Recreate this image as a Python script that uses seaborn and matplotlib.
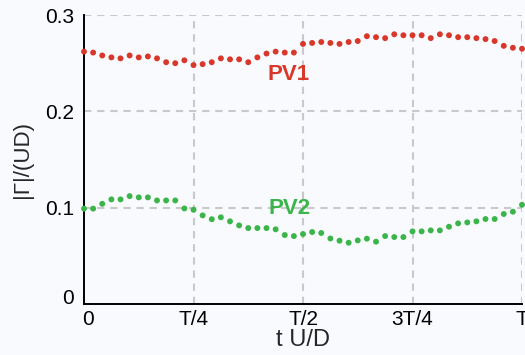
import numpy as np
import pandas as pd
import matplotlib
matplotlib.use("Agg")
import matplotlib.pyplot as plt
import matplotlib.transforms as mtransforms
import seaborn as sns

# Circulation of the two primary vortices over one shedding period
n_samples = 49
pv1 = [0.262, 0.261, 0.258, 0.256, 0.255, 0.258, 0.256, 0.257, 0.255, 0.251,
       0.250, 0.253, 0.248, 0.249, 0.251, 0.255, 0.254, 0.254, 0.251, 0.256,
       0.260, 0.262, 0.261, 0.261, 0.270, 0.271, 0.272, 0.271, 0.270, 0.272,
       0.273, 0.278, 0.277, 0.276, 0.280, 0.279, 0.279, 0.279, 0.276, 0.280,
       0.279, 0.277, 0.277, 0.276, 0.275, 0.273, 0.268, 0.266, 0.265]
pv2 = [0.099, 0.099, 0.104, 0.1086, 0.1086, 0.112, 0.1107, 0.1107, 0.1075, 0.1075,
       0.1075, 0.0992, 0.0978, 0.092, 0.088, 0.090, 0.0858, 0.0816, 0.0788, 0.0788,
       0.0788, 0.0775, 0.0716, 0.0705, 0.0726, 0.0747, 0.0737, 0.068, 0.0657, 0.0636,
       0.066, 0.0678, 0.0647, 0.0705, 0.0695, 0.0695, 0.0754, 0.0754, 0.0764, 0.0764,
       0.0802, 0.0837, 0.0847, 0.0858, 0.0882, 0.0882, 0.0934, 0.0958, 0.103]
x_ticks = [0, 0.25, 0.5, 0.75, 1.0]
x_ticklabels = ["0", "T/4", "T/2", "3T/4", "T"]
y_ticks = [0, 0.1, 0.2, 0.3]
y_ticklabels = ["0", "0.1", "0.2", "0.3"]

t = np.linspace(0, 1, n_samples)
df = pd.DataFrame({"t": np.concatenate([t, t]),
                   "gamma": pv1 + pv2,
                   "vortex": ["PV1"] * n_samples + ["PV2"] * n_samples})

sns.set_theme(style="white")
plt.rcParams["font.family"] = ["Liberation Sans", "DejaVu Sans"]

bg = "#f9fafd"
red = "#d8372a"
green = "#3bb54a"

fig = plt.figure(figsize=(5.25, 3.55), dpi=100, facecolor=bg)
ax = fig.add_axes([0.16, 0.1437, 0.8343, 0.814])
ax.set_facecolor(bg)

sns.scatterplot(data=df, x="t", y="gamma", hue="vortex",
                palette={"PV1": red, "PV2": green}, s=18, linewidth=0,
                legend=False, ax=ax, zorder=3, clip_on=False)

ax.set_xlim(0, 1)
ax.set_ylim(0, 0.3)
ax.set_xticks(x_ticks)
ax.set_xticklabels(x_ticklabels)
ax.set_yticks(y_ticks)
ax.set_yticklabels(y_ticklabels)

grid_style = dict(color="#c9c9c9", lw=1.5, ls=(0, (3.5, 2.8)), zorder=1)
for xv in x_ticks[1:]:
    ax.axvline(xv, **grid_style)
for yv in y_ticks[1:]:
    ax.axhline(yv, **grid_style)

for side in ("top", "right"):
    ax.spines[side].set_visible(False)
for side in ("left", "bottom"):
    ax.spines[side].set_color("black")
    ax.spines[side].set_linewidth(1.4)

ax.tick_params(direction="in", length=5, width=1.4, colors="black",
               labelsize=15)
ax.tick_params(axis="y", pad=7)
ax.tick_params(axis="x", pad=4)

# nudge the two zero labels apart at the origin
x0 = ax.get_xticklabels()[0]
x0.set_transform(x0.get_transform() +
                 mtransforms.ScaledTranslation(4 / 100, 0, fig.dpi_scale_trans))
y0 = ax.get_yticklabels()[0]
y0.set_transform(y0.get_transform() +
                 mtransforms.ScaledTranslation(0, 7 / 100, fig.dpi_scale_trans))

ax.set_xlabel("t U/D", fontsize=17, labelpad=0)
ax.set_ylabel("|Γ|/(UD)", fontsize=16, labelpad=9)

ax.text(0.467, 0.2386, "PV1", color=red, fontsize=16, fontweight="bold",
        ha="center", va="center")
ax.text(0.469, 0.0995, "PV2", color=green, fontsize=16, fontweight="bold",
        ha="center", va="center")

fig.savefig("out.png", dpi=100, facecolor=bg)
